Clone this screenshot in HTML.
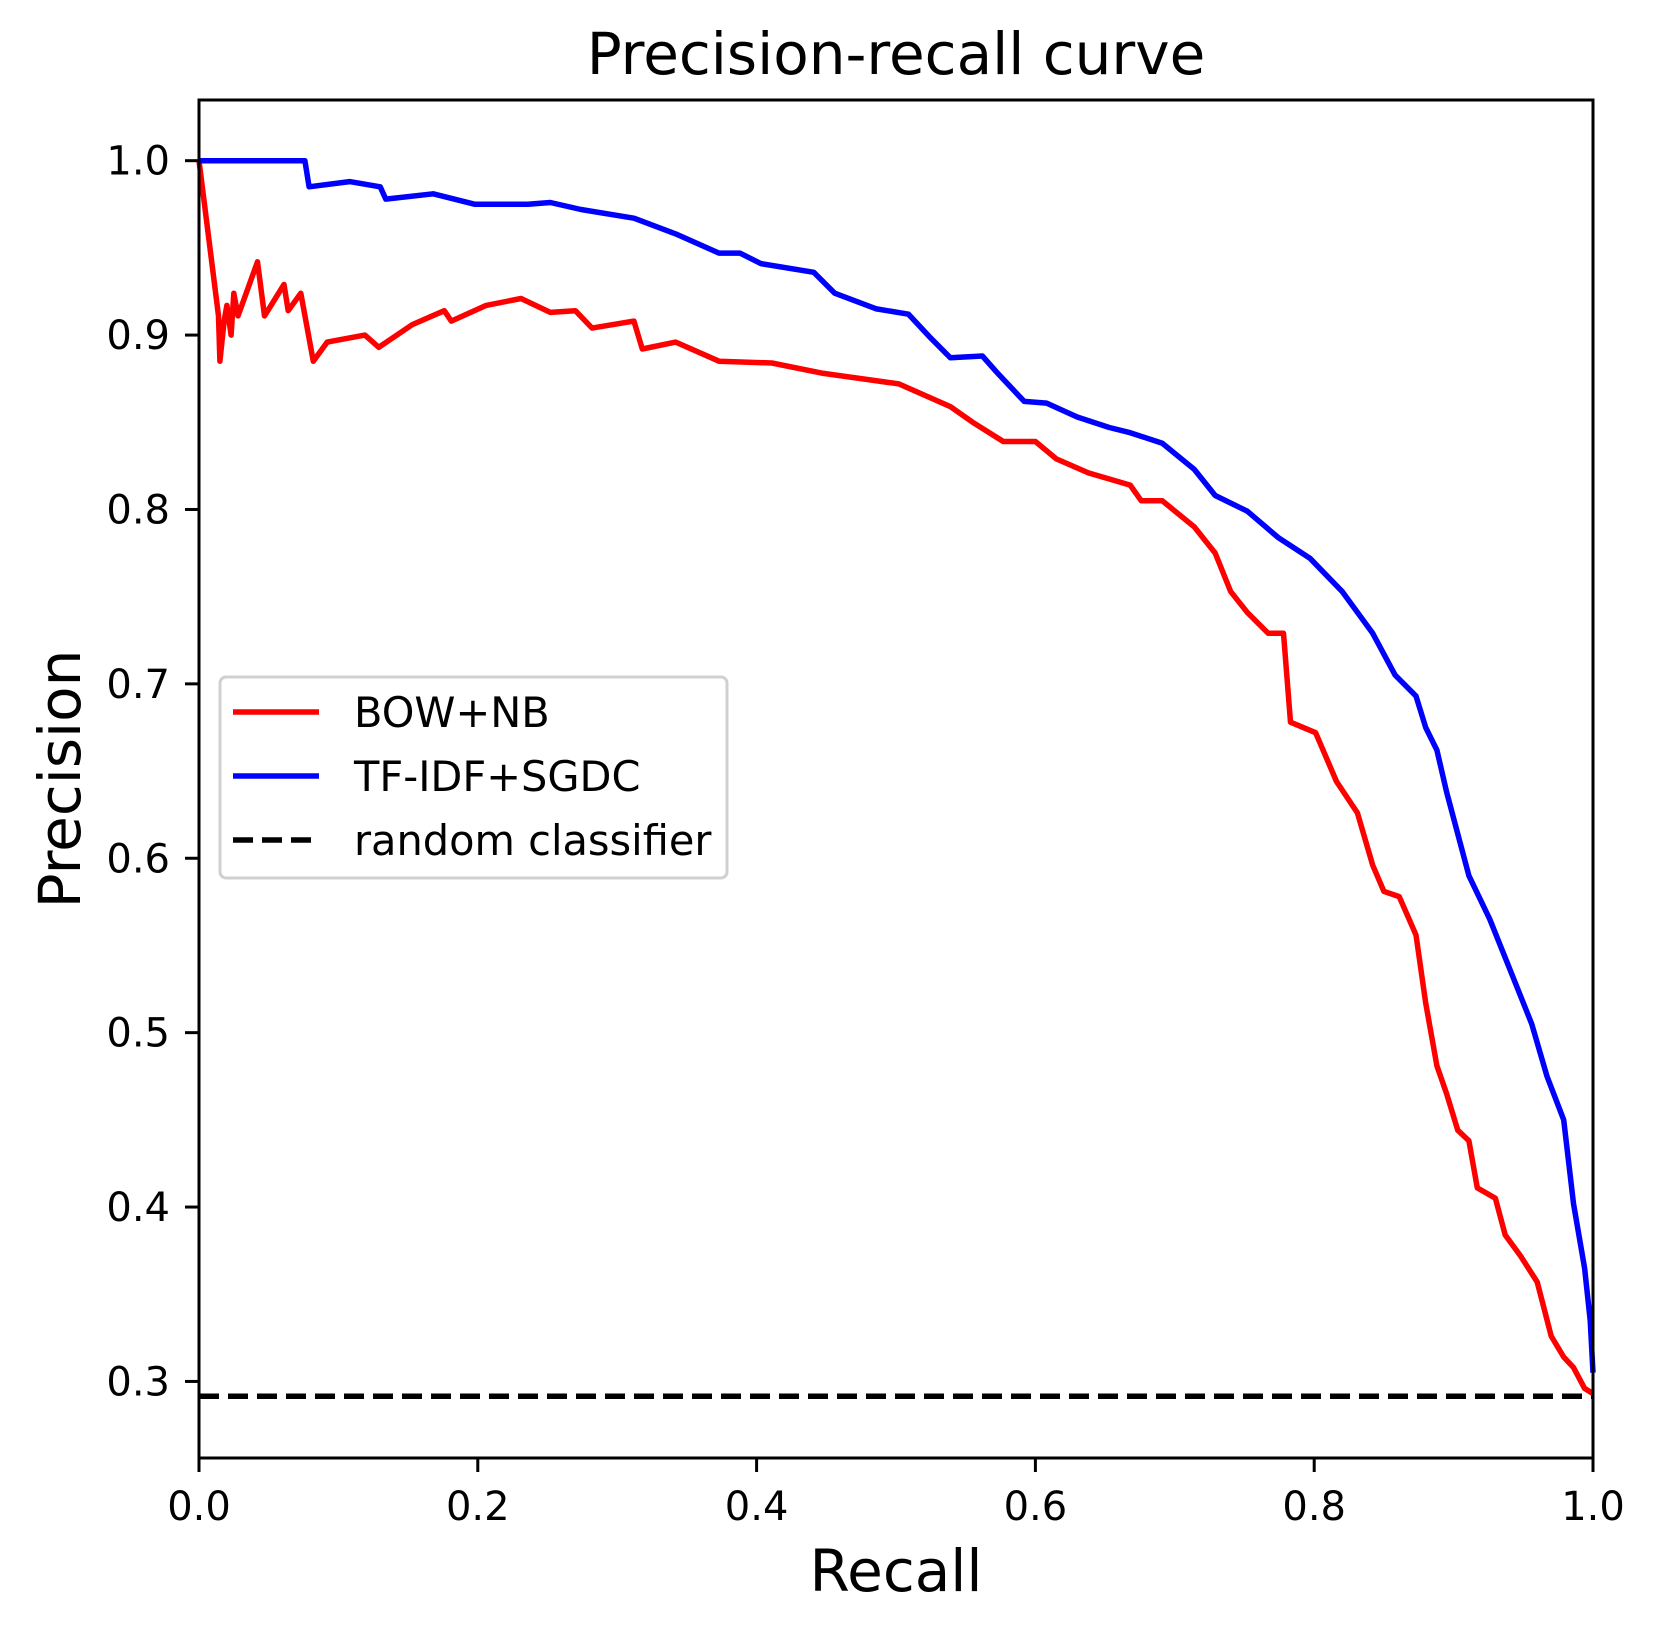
<!DOCTYPE html>
<html><head><meta charset="utf-8"><style>
html,body{margin:0;padding:0;background:#fff;}
svg text{font-family:"DejaVu Sans","Liberation Sans",sans-serif;fill:#000;}
</style></head><body>
<svg id="chart" width="1657" height="1633" viewBox="0 0 1657 1633" xmlns="http://www.w3.org/2000/svg">
<rect width="1657" height="1633" fill="#fff"/>
<g id="plot"></g>
<text x="896" y="74" font-size="58" text-anchor="middle">Precision-recall curve</text>
<text x="896" y="1591" font-size="58" text-anchor="middle">Recall</text>
<text x="0" y="0" font-size="58" text-anchor="middle" transform="translate(80,779) rotate(-90)">Precision</text>
<g>
<rect x="220" y="677" width="507" height="201" rx="6" fill="#fff" fill-opacity="0.8" stroke="#d0d0d0" stroke-width="3"/>
<line x1="233" y1="712" x2="319" y2="712" stroke="#ff0000" stroke-width="5.5"/>
<text x="354" y="727" font-size="41.5">BOW+NB</text>
<line x1="233" y1="776" x2="319" y2="776" stroke="#0000ff" stroke-width="5.5"/>
<text x="354" y="791" font-size="41.5">TF-IDF+SGDC</text>
<line x1="233" y1="840" x2="319" y2="840" stroke="#000" stroke-width="5.5" stroke-dasharray="20,9"/>
<text x="354" y="855" font-size="41.5">random classifier</text>
</g>
</svg>
<script>
const redRecall=[0,.014,.015,.018,.020,.023,.025,.028,.042,.047,.061,.064,.073,.082,.092,.119,.129,.153,.176,.181,.206,.231,.252,.270,.282,.312,.318,.342,.373,.411,.448,.502,.539,.555,.577,.600,.615,.638,.668,.676,.691,.714,.729,.740,.752,.767,.778,.783,.801,.816,.831,.842,.850,.861,.873,.880,.888,.895,.903,.911,.917,.930,.937,.948,.960,.970,.979,.986,.994,1.0];
const redPrecision=[1.0,.911,.885,.908,.917,.900,.924,.911,.942,.911,.929,.914,.924,.885,.896,.900,.893,.906,.914,.908,.917,.921,.913,.914,.904,.908,.892,.896,.885,.884,.878,.872,.859,.850,.839,.839,.829,.821,.814,.805,.805,.790,.775,.753,.741,.729,.729,.678,.672,.644,.626,.596,.581,.578,.556,.517,.481,.465,.444,.438,.411,.405,.384,.372,.357,.326,.314,.308,.296,.293];
const blueRecall=[0,.076,.079,.108,.130,.134,.168,.198,.236,.252,.274,.312,.342,.373,.388,.403,.441,.456,.486,.509,.524,.539,.562,.573,.592,.608,.630,.653,.668,.691,.714,.729,.752,.774,.797,.820,.842,.858,.873,.880,.888,.895,.911,.926,.941,.956,.967,.979,.986,.994,.998,1.0];
const bluePrecision=[1,1,.985,.988,.985,.978,.981,.975,.975,.976,.972,.967,.958,.947,.947,.941,.936,.924,.915,.912,.899,.887,.888,.878,.862,.861,.853,.847,.844,.838,.823,.808,.799,.784,.772,.753,.729,.705,.693,.675,.662,.638,.590,.565,.535,.505,.475,.450,.402,.365,.335,.305];
const randomLevel=[0.2915];
const xTicks=[0,0.2,0.4,0.6,0.8,1.0];
const xTickLabels=["0.0","0.2","0.4","0.6","0.8","1.0"];
const yTicks=[0.3,0.4,0.5,0.6,0.7,0.8,0.9,1.0];
const yTickLabels=["0.3","0.4","0.5","0.6","0.7","0.8","0.9","1.0"];

const L=199,R=1593,T=100,B=1458;
const yMin=0.2561,yMax=1.0348;
function sx(v){return L+(v-0)/(1-0)*(R-L);}
function sy(v){return B-(v-yMin)/(yMax-yMin)*(B-T);}
const NS="http://www.w3.org/2000/svg";
const g=document.getElementById('plot');
function mk(tag,attrs){const e=document.createElementNS(NS,tag);for(const k in attrs)e.setAttribute(k,attrs[k]);g.appendChild(e);return e;}

const rl=mk('line',{x1:sx(0),x2:sx(1),y1:sy(randomLevel[0]),y2:sy(randomLevel[0]),stroke:'#000','stroke-width':5.5,'stroke-dasharray':'20,9'});



function series(xs,ys,color,name){
  let pts=xs.map((x,i)=>sx(x).toFixed(1)+','+sy(ys[i]).toFixed(1)).join(' ');
  const p=mk('polyline',{points:pts,fill:'none',stroke:color,'stroke-width':5.5,'stroke-linejoin':'round'});
  
  
}
series(redRecall,redPrecision,'#ff0000','bow-nb-line');
series(blueRecall,bluePrecision,'#0000ff','tfidf-sgdc-line');

const fr=mk('rect',{x:L,y:T,width:R-L,height:B-T,fill:'none',stroke:'#000','stroke-width':3});



xTicks.forEach((v,i)=>{
  const t=mk('line',{x1:sx(v),x2:sx(v),y1:B,y2:B+14,stroke:'#000','stroke-width':3});
  
  
  const tx=mk('text',{x:sx(v),y:1520,'font-size':40,'text-anchor':'middle'});
  tx.textContent=xTickLabels[i];
  
  
});
yTicks.forEach((v,i)=>{
  const t=mk('line',{x1:L-14,x2:L,y1:sy(v),y2:sy(v),stroke:'#000','stroke-width':3});
  
  
  const tx=mk('text',{x:170,y:sy(v)+14,'font-size':40,'text-anchor':'end'});
  tx.textContent=yTickLabels[i];
  
  
});
</script>
</body></html>
